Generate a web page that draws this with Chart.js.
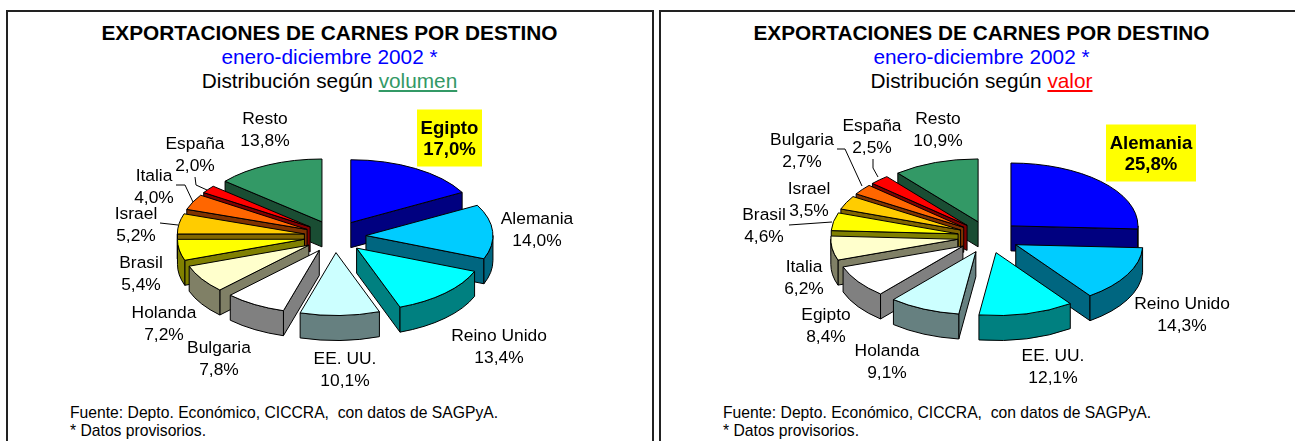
<!DOCTYPE html>
<html><head><meta charset="utf-8">
<script src="https://cdn.jsdelivr.net/npm/chart.js@4"></script>
<style>
html,body{margin:0;padding:0;background:#fff;width:1295px;height:441px;overflow:hidden;font-family:"Liberation Sans",Arial,sans-serif}
.panel{position:absolute;top:10px;height:440px;border:2px solid #222;box-sizing:border-box}
.f{position:absolute;white-space:pre;font-size:15.7px;color:#000;line-height:18px}
canvas{position:absolute;top:0}
</style></head><body>
<div class="panel" style="left:6px;width:648px"></div>
<div class="panel" style="left:659px;width:660px"></div>
<div id="h"></div>
<canvas id="c1"></canvas>
<canvas id="c2"></canvas>
<script>
const title = "EXPORTACIONES DE CARNES POR DESTINO";
const period = "enero-diciembre 2002 *";
const subtitle = "Distribución según ";
const footer1 = "Fuente: Depto. Económico, CICCRA,  con datos de SAGPyA.";
const footer2 = "* Datos provisorios.";

const volumeCategories = ["Egipto","Alemania","Reino Unido","EE. UU.","Bulgaria","Holanda","Brasil","Israel","Italia","España","Resto"];
const volumeValues = [17.0,14.0,13.4,10.1,7.8,7.2,5.4,5.2,4.0,2.0,13.8];
const valueCategories = ["Alemania","Reino Unido","EE. UU.","Holanda","Egipto","Italia","Brasil","Israel","Bulgaria","España","Resto"];
const valueValues = [25.8,14.3,12.1,9.1,8.4,6.2,4.6,3.5,2.7,2.5,10.9];

const sliceColors = ["#0000FF","#00CCFF","#00FFFF","#CCFFFF","#FFFFFF","#FFFFCC","#FFFF00","#FFCC00","#FF6600","#FF0000","#339966"];
const wallColors  = ["#000080","#006680","#008080","#668080","#808080","#808066","#808000","#806600","#803300","#800000","#1A4D33"];

// label centres, page pixels: [x, y of first line]
const volumeLabelPos = [[449.5,127],[537,218],[499,335],[345,358],[219,347],[164,312],[141,262],[136,213],[154,175],[195,143],[265,118]];
const valueLabelPos  = [[1151,142],[1182,303],[1053,355],[887,350],[826,314],[804,266],[764,214],[809,188],[802,139],[872,125],[938,118]];
const volumeLeaders = [[[195,177],[196,185],[207,190]],[[176,185],[185,185],[193,202]],[[160,223],[178,225]]];
const valueLeaders  = [[[873,159],[873,168],[878,177]],[[837,149],[845,149],[862,186]],[[789,225],[832,222]]];

const TILT=0.495, DEPTH=25, EXPLODE=31, EXPLODE_TILT=0.52, LINE=21.5, RADIUS=127;
const FONT='17.4px "Liberation Sans", Arial, sans-serif';
const BOLD='bold 18.6px "Liberation Sans", Arial, sans-serif';

function header(cx, word, color, fx){
  const h=document.getElementById('h');
  const add=(html,y,extra)=>{
    const d=document.createElement('div');
    d.style.cssText=`position:absolute;white-space:pre;transform:translateX(-50%);left:${cx}px;top:${y}px;font-size:20.8px;line-height:24px;${extra}`;
    d.innerHTML=html;h.appendChild(d);
  };
  add(title,21,'font-weight:bold;color:#000');
  add(period,45,'color:#0000FF');
  add(subtitle+`<span style="color:${color};text-decoration:underline">${word}</span>`,69,'color:#000');
  [[footer1,404],[footer2,422]].forEach(([t,y])=>{
    const d=document.createElement('div');d.className='f';
    d.style.left=fx+'px';d.style.top=y+'px';d.textContent=t;h.appendChild(d);
  });
}
header(329.5,'volumen','#339966',70);
header(981.5,'valor','#FF0000',723);

const pie3d={
  id:'pie3d',
  beforeDatasetDraw(chart,args){
    const o=chart.options.plugins.pie3d, ctx=chart.ctx, arcs=args.meta.data;
    const order=arcs.map((a,i)=>i).sort((p,q)=>
      Math.sin((arcs[p].startAngle+arcs[p].endAngle)/2)-Math.sin((arcs[q].startAngle+arcs[q].endAngle)/2));
    ctx.save();
    ctx.lineWidth=1;ctx.strokeStyle='#000';ctx.lineJoin='round';
    for(const i of order){
      const a=arcs[i],s=a.startAngle,e=a.endAngle,m=(s+e)/2,r=a.outerRadius;
      const cx=a.x+Math.cos(m)*EXPLODE, cy=a.y+Math.sin(m)*EXPLODE*EXPLODE_TILT;
      const P=t=>[cx+Math.cos(t)*r,cy+Math.sin(t)*r*TILT];
      const ell=(t0,t1,dy,ccw)=>ctx.ellipse(cx,cy+dy,r,r*TILT,0,t0,t1,ccw);
      const quad=(p)=>{
        ctx.beginPath();ctx.moveTo(cx,cy);ctx.lineTo(p[0],p[1]);ctx.lineTo(p[0],p[1]+DEPTH);ctx.lineTo(cx,cy+DEPTH);ctx.closePath();
        ctx.fillStyle=wallColors[i];ctx.fill();ctx.stroke();
      };
      if(Math.cos(s)<0) quad(P(s));
      if(Math.cos(e)>0) quad(P(e));
      for(const k of [-2,0,2]){
        const t0=Math.max(s,k*Math.PI), t1=Math.min(e,(k+1)*Math.PI);
        if(t1>t0){
          ctx.beginPath();ell(t0,t1,0,false);ell(t1,t0,DEPTH,true);ctx.closePath();
          ctx.fillStyle=wallColors[i];ctx.fill();ctx.stroke();
        }
      }
      ctx.beginPath();ctx.moveTo(cx,cy);ell(s,e,0,false);ctx.closePath();
      ctx.fillStyle=sliceColors[i];ctx.fill();ctx.stroke();
    }
    ctx.restore();
    ctx.save();
    const ox=o.left;
    ctx.textAlign='center';ctx.textBaseline='middle';
    ctx.lineWidth=1;ctx.strokeStyle='#000';
    for(const line of o.leaders){
      ctx.beginPath();line.forEach((p,j)=>j?ctx.lineTo(p[0]-ox,p[1]):ctx.moveTo(p[0]-ox,p[1]));ctx.stroke();
    }
    chart.data.labels.forEach((lab,i)=>{
      const [x,y]=o.pos[i];
      const val=chart.data.datasets[0].data[i].toFixed(1).replace('.',',')+'%';
      if(i===0){
        ctx.fillStyle='#FFFF00';
        ctx.fillRect(x-ox-o.box/2,y-17.5,o.box,57);
      }
      ctx.font=i===0?BOLD:FONT;ctx.fillStyle='#000';
      ctx.fillText(lab,x-ox,y+1.5);ctx.fillText(val,x-ox,y+1.5+LINE);
    });
    ctx.restore();
    return false;
  }
};

function make(id,left,width,padTop,labels,values,pos,leaders,box){
  const c=document.getElementById(id);
  c.style.left=left+'px';c.style.width=width+'px';c.style.height='441px';c.width=width;c.height=441;
  new Chart(c,{type:'pie',plugins:[pie3d],data:{labels,datasets:[{data:values,backgroundColor:sliceColors,borderWidth:0,radius:RADIUS}]},
    options:{responsive:false,animation:false,layout:{padding:{top:padTop}},
      plugins:{legend:{display:false},tooltip:{enabled:false},pie3d:{pos,leaders,left,box}}}});
}
make('c1',0,670,32,volumeCategories,volumeValues,volumeLabelPos,volumeLeaders,65);
make('c2',660,657,33,valueCategories,valueValues,valueLabelPos,valueLeaders,90);
</script>
</body></html>
